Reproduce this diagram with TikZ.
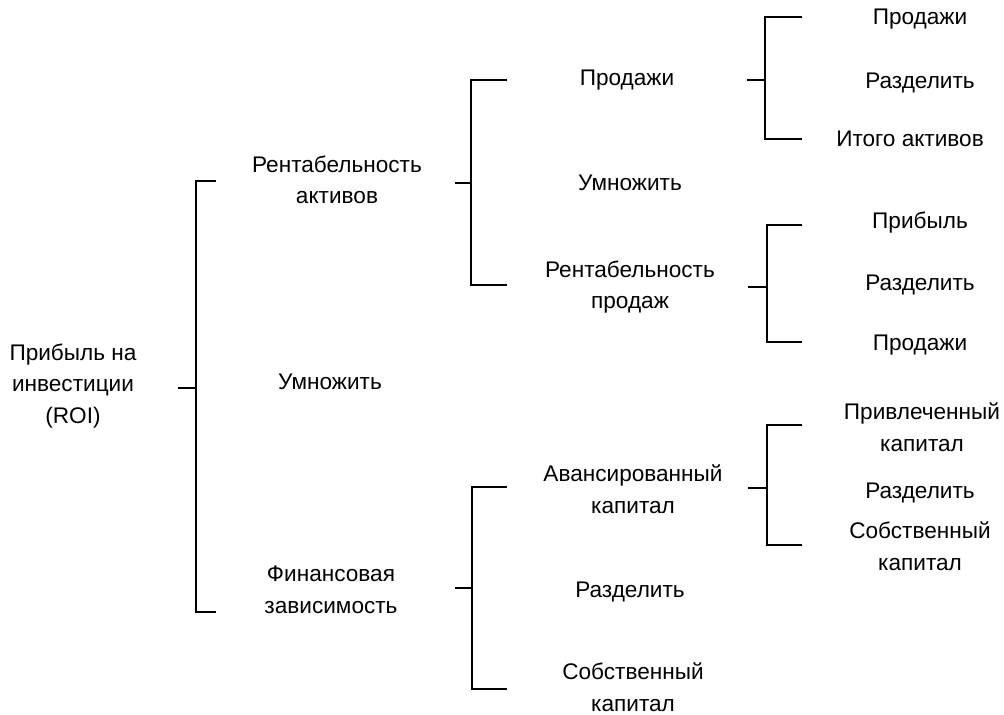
\documentclass[tikz,border=0pt]{standalone}
\usepackage{fontspec}
\setmainfont{Liberation Sans}
\usepackage{tikz}

\begin{document}
\begin{tikzpicture}[x=0.5pt,y=-0.5pt,
  every node/.style={align=center,font=\fontsize{11.3}{15.8}\selectfont},
  brk/.style={line width=1pt}]
  \useasboundingbox (0,0) rectangle (1004,715);
  % level 0
  \node (roi) at (73,386) {Прибыль на\\инвестиции\\(ROI)};
  \draw[brk] (178,388) -- (196,388) (216,181) -| (196,612) -- (216,612);
  % level 1
  \node (ra) at (337,180) {Рентабельность\\активов};
  \node (mula) at (330,382) {Умножить};
  \node (fin) at (331,590) {Финансовая\\зависимость};
  \draw[brk] (455,183) -- (471,183) (507,80) -| (471,285) -- (507,285);
  \draw[brk] (455,588) -- (472,588) (507,487) -| (472,689) -- (507,689);
  % level 2
  \node (sala) at (627,80) {Продажи};
  \node (mulb) at (630,183) {Умножить};
  \node (rs) at (630,287) {Рентабельность\\продаж};
  \node (adv) at (633,489) {Авансированный\\капитал};
  \node (diva) at (630,592) {Разделить};
  \node (eqa) at (633,687) {Собственный\\капитал};
  \draw[brk] (747,80) -- (765,80) (802,17) -| (765,139) -- (802,139);
  \draw[brk] (748,287) -- (767,287) (802,225) -| (767,342) -- (802,342);
  \draw[brk] (748,488) -- (767,488) (802,425) -| (767,545) -- (802,545);
  % level 3
  \node (salb) at (920,19) {Продажи};
  \node (divb) at (920,83) {Разделить};
  \node (ta) at (910,139) {Итого активов};
  \node (prof) at (920,223) {Прибыль};
  \node (divc) at (920,285) {Разделить};
  \node (salc) at (920,345) {Продажи};
  \node (brw) at (922,427) {Привлеченный\\капитал};
  \node (divd) at (920,493) {Разделить};
  \node (eqb) at (920,546) {Собственный\\капитал};
\end{tikzpicture}
\end{document}
